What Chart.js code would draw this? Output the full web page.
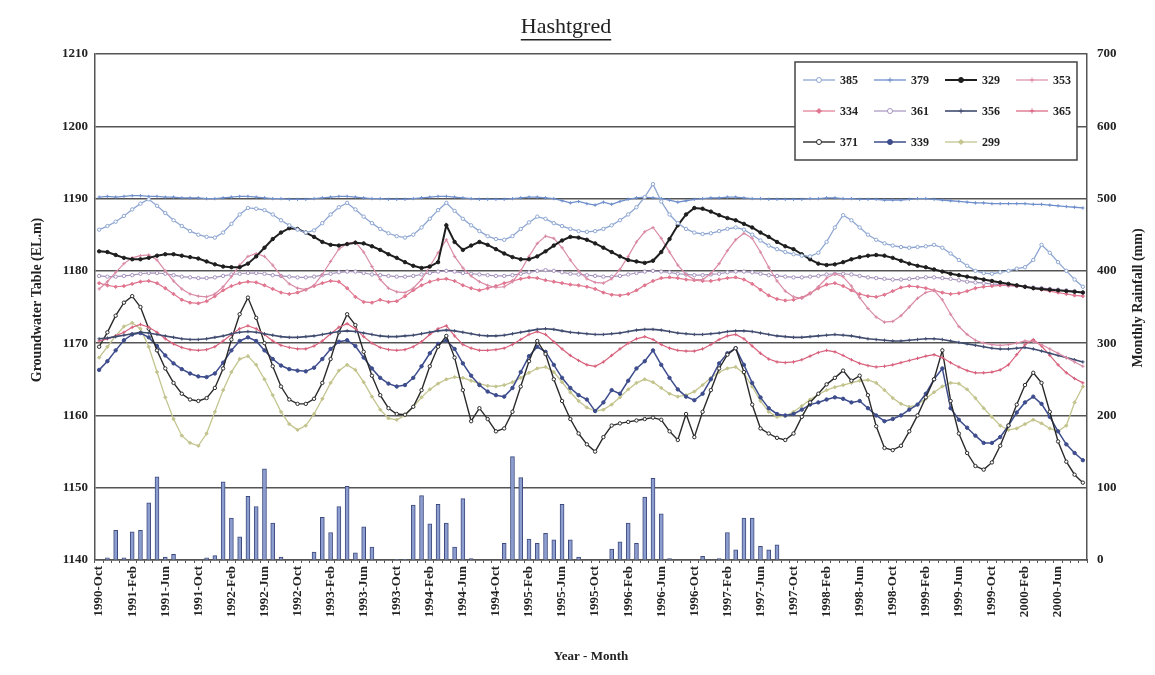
<!DOCTYPE html>
<html>
<head>
<meta charset="utf-8">
<script src="https://cdn.jsdelivr.net/npm/chart.js@4.4.1/dist/chart.umd.min.js"></script>
<style>
  html, body { margin: 0; padding: 0; background: #fff; }
  #wrap { position: relative; width: 1155px; height: 675px; }
</style>
</head>
<body>
<div id="wrap"><canvas id="c" width="1155" height="675"></canvas></div>
<script>
// Hashtgred — groundwater table of 11 wells (left axis) and monthly rainfall bars (right axis)

const monthNames = ['Jan','Feb','Mar','Apr','May','Jun','Jul','Aug','Sep','Oct','Nov','Dec'];
const months = [];
for (let k = 0; k < 120; k++) {
    months.push((1990 + Math.floor((9 + k) / 12)) + '-' + monthNames[(9 + k) % 12]);
}

const leftTicks = [1140, 1150, 1160, 1170, 1180, 1190, 1200, 1210];
const rightTicks = [0, 100, 200, 300, 400, 500, 600, 700];

const rainfall = [
    0,3,41,3,39,41,79,115,4,8,0,0,
    0,3,6,108,58,32,88,74,126,51,4,0,
    0,0,11,59,38,74,102,10,46,18,0,0,
    1,1,76,89,50,77,51,18,85,2,0,0,
    0,23,143,114,29,23,37,28,77,28,4,0,
    0,0,15,25,51,23,87,113,64,2,0,0,
    0,5,0,2,38,14,58,58,19,14,21,0,
    0,0,0,0,0,0,0,0,0,0,0,0,
    0,0,0,0,0,0,0,0,0,0,0,0,
    0,0,0,0,0,0,0,0,0,0,0,0
];

const w385 = [
    1185.7,1186.2,1186.8,1187.6,1188.5,1189.3,1189.9,1189.0,1188.0,1187.0,1186.2,1185.5,
    1185.0,1184.7,1184.6,1185.3,1186.5,1187.8,1188.7,1188.6,1188.4,1187.8,1187.0,1186.3,
    1185.7,1185.3,1185.6,1186.6,1187.8,1188.8,1189.4,1188.5,1187.5,1186.6,1185.8,1185.2,
    1184.8,1184.6,1185.0,1186.0,1187.2,1188.4,1189.4,1188.3,1187.2,1186.3,1185.5,1184.8,
    1184.4,1184.3,1184.8,1185.8,1186.7,1187.5,1187.2,1186.6,1186.2,1185.8,1185.5,1185.4,
    1185.5,1185.8,1186.3,1187.0,1187.8,1188.8,1190.2,1192.0,1189.6,1187.8,1186.6,1185.8,
    1185.3,1185.1,1185.2,1185.5,1185.8,1186.0,1185.7,1185.0,1184.2,1183.5,1183.0,1182.6,
    1182.3,1182.1,1182.0,1182.5,1184.0,1186.0,1187.7,1187.0,1186.0,1185.0,1184.3,1183.8,
    1183.5,1183.3,1183.2,1183.3,1183.4,1183.6,1183.2,1182.4,1181.5,1180.7,1180.0,1179.7,
    1179.6,1179.8,1180.0,1180.3,1180.5,1181.5,1183.6,1182.5,1181.2,1180.0,1178.8,1177.8
];
const w379 = [
    1190.2,1190.3,1190.2,1190.3,1190.4,1190.4,1190.3,1190.3,1190.2,1190.2,1190.1,1190.1,
    1190.1,1190.0,1190.0,1190.1,1190.2,1190.3,1190.3,1190.2,1190.1,1190.0,1190.0,1189.9,
    1189.9,1189.9,1190.0,1190.1,1190.2,1190.3,1190.3,1190.2,1190.1,1190.0,1190.0,1189.9,
    1189.9,1189.9,1190.0,1190.1,1190.2,1190.3,1190.3,1190.2,1190.1,1190.0,1189.9,1189.9,
    1189.9,1189.9,1190.0,1190.1,1190.2,1190.2,1190.1,1190.0,1189.7,1189.4,1189.6,1189.3,
    1189.1,1189.5,1189.2,1189.6,1189.9,1190.1,1190.2,1190.1,1190.0,1189.8,1189.5,1189.7,
    1189.9,1190.0,1190.1,1190.1,1190.2,1190.2,1190.1,1190.0,1190.0,1189.9,1189.9,1189.9,
    1189.9,1189.9,1190.0,1190.0,1190.1,1190.1,1190.0,1190.0,1189.9,1189.9,1189.9,1189.8,
    1189.8,1189.8,1189.9,1190.0,1190.0,1189.9,1189.8,1189.7,1189.6,1189.5,1189.4,1189.4,
    1189.3,1189.3,1189.3,1189.3,1189.3,1189.2,1189.2,1189.1,1189.0,1188.9,1188.8,1188.7
];
const w329 = [
    1182.7,1182.6,1182.2,1181.8,1181.6,1181.6,1181.8,1182.1,1182.3,1182.3,1182.1,1181.9,
    1181.7,1181.3,1180.9,1180.6,1180.5,1180.5,1181.0,1182.0,1183.2,1184.4,1185.3,1185.9,
    1185.8,1185.3,1184.7,1184.0,1183.6,1183.5,1183.7,1183.9,1183.8,1183.4,1182.9,1182.3,
    1181.8,1181.2,1180.7,1180.4,1180.6,1181.2,1186.3,1184.0,1182.9,1183.5,1184.0,1183.6,
    1183.0,1182.4,1181.9,1181.6,1181.6,1182.0,1182.7,1183.5,1184.2,1184.7,1184.6,1184.3,
    1183.8,1183.2,1182.6,1182.0,1181.5,1181.3,1181.1,1181.4,1182.6,1184.4,1186.3,1187.8,
    1188.7,1188.6,1188.2,1187.7,1187.3,1187.0,1186.5,1186.0,1185.3,1184.7,1184.0,1183.4,
    1183.0,1182.3,1181.6,1181.0,1180.8,1180.9,1181.2,1181.6,1181.9,1182.1,1182.2,1182.1,
    1181.8,1181.4,1181.0,1180.7,1180.5,1180.2,1179.9,1179.6,1179.4,1179.2,1179.0,1178.8,
    1178.6,1178.4,1178.2,1178.0,1177.8,1177.6,1177.5,1177.4,1177.3,1177.2,1177.1,1177.0
];
const w353 = [
    1177.5,1178.5,1179.8,1181.0,1181.8,1182.1,1182.2,1181.5,1180.0,1178.6,1177.5,1176.8,
    1176.5,1176.4,1176.8,1177.8,1179.2,1180.8,1182.0,1182.4,1182.0,1180.8,1179.3,1178.2,
    1177.6,1177.4,1178.0,1179.5,1181.3,1183.0,1183.8,1184.0,1182.6,1180.6,1178.8,1177.6,
    1177.1,1177.0,1177.6,1178.8,1180.6,1182.5,1184.3,1182.0,1180.4,1179.3,1178.5,1178.0,
    1177.7,1177.8,1178.5,1180.0,1182.0,1183.8,1184.8,1184.5,1183.2,1181.5,1180.0,1178.9,
    1178.4,1178.3,1178.9,1180.2,1182.0,1184.0,1185.4,1186.0,1184.5,1182.6,1180.8,1179.5,
    1178.8,1178.8,1179.6,1181.0,1182.8,1184.3,1185.2,1184.5,1182.6,1180.5,1178.6,1177.2,
    1176.4,1176.2,1176.8,1177.8,1179.0,1179.6,1179.2,1177.9,1176.3,1174.8,1173.6,1172.9,
    1173.0,1173.8,1175.0,1176.2,1177.0,1177.3,1176.0,1174.0,1172.3,1171.2,1170.4,1170.0,
    1169.8,1169.7,1169.8,1170.0,1170.3,1170.2,1169.8,1169.2,1168.6,1168.0,1167.4,1166.8
];
const w334 = [
    1178.3,1178.0,1177.8,1177.9,1178.2,1178.5,1178.6,1178.3,1177.6,1176.8,1176.0,1175.6,
    1175.5,1175.8,1176.5,1177.3,1177.9,1178.3,1178.5,1178.4,1178.0,1177.5,1177.0,1176.8,
    1177.0,1177.4,1177.9,1178.3,1178.6,1178.5,1177.6,1176.4,1175.7,1175.6,1176.0,1175.7,
    1175.8,1176.5,1177.3,1178.0,1178.5,1178.8,1178.9,1178.6,1178.0,1177.6,1177.3,1177.6,
    1177.9,1178.3,1178.6,1178.9,1179.1,1179.0,1178.7,1178.5,1178.3,1178.1,1178.0,1177.8,
    1177.5,1177.0,1176.7,1176.6,1176.8,1177.3,1178.0,1178.6,1179.0,1179.1,1179.0,1178.8,
    1178.7,1178.6,1178.6,1178.8,1179.0,1179.1,1178.8,1178.2,1177.4,1176.6,1176.1,1175.9,
    1176.0,1176.3,1176.9,1177.6,1178.1,1178.3,1177.9,1177.3,1176.8,1176.5,1176.4,1176.7,
    1177.2,1177.7,1177.9,1177.8,1177.6,1177.3,1177.0,1176.8,1176.9,1177.2,1177.6,1177.8,
    1177.9,1178.0,1178.0,1177.9,1177.8,1177.6,1177.4,1177.2,1177.0,1176.8,1176.6,1176.5
];
const w361 = [
    1179.3,1179.2,1179.2,1179.3,1179.4,1179.6,1179.7,1179.7,1179.6,1179.4,1179.2,1179.1,
    1179.0,1179.0,1179.1,1179.3,1179.5,1179.6,1179.7,1179.7,1179.6,1179.4,1179.3,1179.2,
    1179.1,1179.1,1179.2,1179.4,1179.6,1179.8,1179.9,1179.9,1179.7,1179.5,1179.4,1179.3,
    1179.2,1179.2,1179.3,1179.5,1179.7,1179.9,1180.0,1179.9,1179.7,1179.6,1179.5,1179.4,
    1179.3,1179.3,1179.4,1179.6,1179.8,1180.0,1180.1,1180.0,1179.8,1179.6,1179.5,1179.4,
    1179.3,1179.2,1179.2,1179.3,1179.5,1179.7,1179.9,1180.0,1179.9,1179.8,1179.6,1179.5,
    1179.4,1179.4,1179.5,1179.6,1179.8,1179.9,1179.9,1179.8,1179.6,1179.4,1179.3,1179.2,
    1179.1,1179.1,1179.2,1179.3,1179.5,1179.6,1179.6,1179.5,1179.3,1179.1,1179.0,1178.9,
    1178.8,1178.8,1178.9,1179.0,1179.1,1179.1,1179.0,1178.9,1178.7,1178.5,1178.4,1178.3,
    1178.2,1178.1,1178.0,1177.9,1177.8,1177.7,1177.6,1177.5,1177.4,1177.3,1177.2,1177.0
];
const w356 = [
    1170.6,1170.7,1170.9,1171.1,1171.3,1171.5,1171.4,1171.2,1171.0,1170.8,1170.6,1170.5,
    1170.5,1170.6,1170.8,1171.0,1171.3,1171.5,1171.6,1171.5,1171.3,1171.1,1170.9,1170.8,
    1170.8,1170.9,1171.0,1171.2,1171.4,1171.6,1171.7,1171.6,1171.4,1171.2,1171.0,1170.9,
    1170.9,1171.0,1171.1,1171.3,1171.5,1171.7,1171.8,1171.7,1171.5,1171.3,1171.1,1171.0,
    1171.0,1171.1,1171.3,1171.5,1171.7,1171.9,1172.0,1171.9,1171.7,1171.5,1171.4,1171.3,
    1171.2,1171.2,1171.3,1171.4,1171.6,1171.8,1171.9,1171.9,1171.8,1171.6,1171.4,1171.3,
    1171.2,1171.2,1171.3,1171.4,1171.6,1171.7,1171.7,1171.6,1171.4,1171.2,1171.0,1170.9,
    1170.8,1170.8,1170.9,1171.0,1171.1,1171.2,1171.1,1171.0,1170.8,1170.6,1170.5,1170.4,
    1170.3,1170.3,1170.4,1170.5,1170.6,1170.6,1170.5,1170.3,1170.1,1169.9,1169.7,1169.5,
    1169.3,1169.2,1169.2,1169.3,1169.4,1169.2,1168.9,1168.6,1168.3,1168.0,1167.7,1167.4
];
const w365 = [
    1170.3,1170.6,1171.0,1171.5,1172.2,1172.6,1172.2,1171.5,1170.6,1169.9,1169.4,1169.1,
    1169.0,1169.1,1169.5,1170.3,1171.2,1172.0,1172.4,1172.0,1171.2,1170.3,1169.7,1169.4,
    1169.2,1169.2,1169.6,1170.3,1171.3,1172.2,1172.7,1172.0,1170.9,1170.0,1169.4,1169.1,
    1169.0,1169.1,1169.5,1170.2,1171.2,1172.0,1172.4,1171.0,1169.8,1169.3,1169.0,1169.0,
    1169.1,1169.3,1169.8,1170.5,1171.2,1171.6,1171.2,1170.2,1169.2,1168.3,1167.6,1167.0,
    1166.8,1167.4,1168.3,1169.2,1170.0,1170.6,1170.9,1170.5,1169.8,1169.3,1169.0,1168.9,
    1168.9,1169.2,1169.8,1170.5,1171.0,1171.2,1170.6,1169.6,1168.6,1167.8,1167.4,1167.3,
    1167.4,1167.7,1168.2,1168.7,1169.0,1168.8,1168.3,1167.7,1167.2,1166.9,1166.7,1166.8,
    1167.0,1167.3,1167.6,1167.9,1168.2,1168.4,1168.0,1167.3,1166.7,1166.2,1165.9,1165.9,
    1166.0,1166.3,1167.0,1168.4,1169.8,1170.5,1169.6,1168.3,1167.0,1165.9,1165.1,1164.5
];
const w371 = [
    1169.5,1171.5,1173.8,1175.6,1176.5,1175.0,1172.0,1169.0,1166.5,1164.5,1163.0,1162.2,
    1162.0,1162.4,1163.8,1166.5,1170.5,1174.0,1176.3,1173.5,1170.0,1166.8,1164.0,1162.2,
    1161.6,1161.6,1162.3,1164.5,1167.8,1171.5,1174.0,1172.5,1168.8,1165.5,1162.8,1161.0,
    1160.2,1160.1,1161.2,1163.5,1166.8,1169.5,1171.0,1168.0,1163.5,1159.2,1161.0,1159.5,
    1157.8,1158.2,1160.5,1164.0,1167.5,1170.3,1168.5,1165.0,1162.0,1159.5,1157.5,1156.0,
    1155.0,1157.0,1158.6,1158.9,1159.1,1159.3,1159.5,1159.7,1159.4,1157.8,1156.6,1160.2,
    1157.0,1160.5,1163.5,1166.5,1168.4,1169.3,1166.0,1161.5,1158.2,1157.5,1156.9,1156.6,
    1157.5,1159.8,1161.8,1163.0,1164.3,1165.2,1166.2,1164.8,1165.5,1162.8,1158.5,1155.5,
    1155.2,1155.8,1157.8,1160.0,1162.5,1165.0,1169.0,1162.0,1157.5,1154.8,1153.0,1152.5,
    1153.5,1155.8,1158.6,1161.5,1164.2,1165.9,1164.5,1160.5,1156.4,1153.6,1151.8,1150.7
];
const w339 = [
    1166.3,1167.5,1169.0,1170.4,1171.2,1171.4,1170.8,1169.6,1168.3,1167.2,1166.4,1165.8,
    1165.4,1165.3,1165.8,1167.3,1169.0,1170.3,1170.8,1170.3,1169.0,1167.8,1166.9,1166.4,
    1166.2,1166.1,1166.6,1167.8,1169.2,1170.2,1170.4,1169.6,1168.0,1166.5,1165.2,1164.4,
    1164.0,1164.2,1165.2,1166.8,1168.6,1169.9,1170.4,1169.2,1167.2,1165.5,1164.2,1163.3,
    1162.8,1162.6,1163.8,1166.0,1168.2,1169.5,1168.8,1167.0,1165.2,1163.8,1162.8,1162.2,
    1160.6,1161.8,1163.5,1163.0,1164.8,1166.5,1167.5,1169.0,1167.0,1165.2,1163.6,1162.6,
    1162.1,1163.0,1165.0,1167.2,1168.6,1169.3,1167.0,1164.5,1162.5,1161.0,1160.2,1160.0,
    1160.2,1160.8,1161.5,1161.8,1162.2,1162.5,1162.3,1161.8,1162.0,1161.0,1160.0,1159.2,
    1159.5,1160.0,1160.8,1161.5,1163.0,1165.0,1166.5,1161.0,1159.4,1158.3,1157.2,1156.2,
    1156.2,1157.0,1158.6,1160.4,1161.8,1162.6,1161.6,1159.8,1157.8,1156.0,1154.8,1153.8
];
const w299 = [
    1168.0,1169.5,1171.0,1172.3,1172.8,1172.0,1169.5,1166.0,1162.5,1159.5,1157.2,1156.2,
    1155.8,1157.5,1160.5,1163.5,1166.0,1167.8,1168.2,1167.0,1165.0,1162.8,1160.5,1158.8,
    1158.0,1158.6,1160.2,1162.3,1164.5,1166.2,1167.0,1166.3,1164.6,1162.6,1160.8,1159.6,
    1159.4,1160.0,1161.2,1162.5,1163.6,1164.4,1165.0,1165.3,1165.2,1164.8,1164.4,1164.1,
    1164.0,1164.2,1164.6,1165.2,1165.9,1166.5,1166.7,1166.0,1164.6,1163.2,1162.0,1161.1,
    1160.6,1160.8,1161.5,1162.5,1163.6,1164.5,1165.0,1164.6,1163.8,1163.0,1162.6,1162.8,
    1163.3,1164.2,1165.2,1166.0,1166.5,1166.7,1165.8,1164.0,1162.0,1160.5,1159.8,1159.9,
    1160.5,1161.3,1162.2,1162.9,1163.5,1163.9,1164.2,1164.5,1164.8,1164.9,1164.5,1163.5,
    1162.4,1161.6,1161.2,1161.5,1162.3,1163.2,1164.0,1164.5,1164.4,1163.6,1162.4,1161.0,
    1159.8,1158.6,1158.0,1158.2,1158.8,1159.4,1158.9,1158.2,1157.8,1158.6,1161.8,1164.0
];

// legend order (row by row, 4 per row)
const wells = [
    { name: '385', data: w385, color: '#8ea6d2', style: 'circle',  fill: '#ffffff', width: 1.3 },
    { name: '379', data: w379, color: '#6f8fcc', style: 'cross',   fill: '#6f8fcc', width: 1.3 },
    { name: '329', data: w329, color: '#1e1e1e', style: 'circle',  fill: '#1e1e1e', width: 2.0 },
    { name: '353', data: w353, color: '#d98ba6', style: 'cross',   fill: '#d98ba6', width: 1.2 },
    { name: '334', data: w334, color: '#e0768f', style: 'rectRot', fill: '#e0768f', width: 1.2 },
    { name: '361', data: w361, color: '#a592bd', style: 'circle',  fill: '#ffffff', width: 1.2 },
    { name: '356', data: w356, color: '#404c70', style: 'cross',   fill: '#404c70', width: 1.6 },
    { name: '365', data: w365, color: '#d8617c', style: 'cross',   fill: '#d8617c', width: 1.2 },
    { name: '371', data: w371, color: '#2a2a2a', style: 'circle',  fill: '#ffffff', width: 1.4 },
    { name: '339', data: w339, color: '#3d4c8c', style: 'circle',  fill: '#3d4c8c', width: 1.5 },
    { name: '299', data: w299, color: '#c3c48e', style: 'rectRot', fill: '#c3c48e', width: 1.3 }
];

const SERIF = '"Liberation Serif", "DejaVu Serif", serif';

const datasets = wells.map((w, i) => ({
    type: 'line',
    label: w.name,
    data: w.data,
    yAxisID: 'y',
    borderColor: w.color,
    borderWidth: w.width,
    pointStyle: w.style,
    pointRadius: 1.7,
    pointBorderWidth: 1,
    pointBorderColor: w.color,
    pointBackgroundColor: w.fill,
    tension: 0,
    order: 1 + i
}));
datasets.push({
    type: 'bar',
    label: 'Rainfall',
    data: rainfall,
    yAxisID: 'y1',
    backgroundColor: '#8c9dd0',
    borderColor: '#3f4b7e',
    borderWidth: 1,
    barThickness: 4,
    order: 50
});

const textPlugin = {
    id: 'texts',
    afterDraw(chart) {
        const ctx = chart.ctx;
        const area = chart.chartArea;
        ctx.save();
        ctx.fillStyle = '#222';
        // chart title, underlined
        ctx.font = '22px ' + SERIF;
        ctx.textAlign = 'center';
        ctx.textBaseline = 'middle';
        ctx.fillText('Hashtgred', 566, 27);
        const tw = ctx.measureText('Hashtgred').width;
        ctx.fillRect(566 - tw / 2, 39, tw, 1.5);

        // axis titles
        ctx.font = 'bold 13px ' + SERIF;
        ctx.fillText('Year - Month', (area.left + area.right) / 2, 657);
        ctx.font = 'bold 14px ' + SERIF;
        ctx.translate(37, 300);
        ctx.rotate(-Math.PI / 2);
        ctx.fillText('Groundwater Table (EL.m)', 0, 0);
        ctx.setTransform(1, 0, 0, 1, 0, 0);
        ctx.translate(1138, 298);
        ctx.rotate(-Math.PI / 2);
        ctx.fillText('Monthly Rainfall (mm)', 0, 0);
        ctx.setTransform(1, 0, 0, 1, 0, 0);

        // legend box
        const bx = 795, by = 62, bw = 282, bh = 98;
        ctx.fillStyle = '#fff';
        ctx.fillRect(bx, by, bw, bh);
        ctx.strokeStyle = '#444';
        ctx.lineWidth = 1.5;
        ctx.strokeRect(bx, by, bw, bh);
        ctx.font = 'bold 12px ' + SERIF;
        ctx.textAlign = 'left';
        chart.data.datasets.forEach((ds, i) => {
            if (ds.type !== 'line') return;
            const col = i % 4, row = Math.floor(i / 4);
            const x0 = 803 + col * 71, y0 = 80 + row * 31;
            ctx.strokeStyle = ds.borderColor;
            ctx.lineWidth = ds.borderWidth;
            ctx.beginPath();
            ctx.moveTo(x0, y0);
            ctx.lineTo(x0 + 32, y0);
            ctx.stroke();
            ctx.lineWidth = 1;
            ctx.fillStyle = ds.pointBackgroundColor;
            ctx.strokeStyle = ds.borderColor;
            Chart.helpers.drawPoint(ctx, {
                pointStyle: ds.pointStyle, radius: 2.5, borderWidth: 1
            }, x0 + 16, y0);
            ctx.fillStyle = '#222';
            ctx.fillText(ds.label, x0 + 37, y0 + 1);
        });
        ctx.restore();
    }
};

new Chart(document.getElementById('c'), {
    data: { labels: months, datasets },
    options: {
        responsive: false,
        animation: false,
        layout: { padding: { top: 54, left: 0, right: 0, bottom: 0 } },
        plugins: { legend: { display: false }, tooltip: { enabled: false } },
        scales: {
            x: {
                type: 'category',
                offset: true,
                afterFit: s => { s.height = 115; },
                grid: { drawOnChartArea: false, tickLength: 3, color: '#555' },
                border: { color: '#555', width: 1.5 },
                ticks: {
                    autoSkip: false,
                    maxRotation: 90,
                    minRotation: 90,
                    padding: 3,
                    color: '#222',
                    font: { family: SERIF, size: 13, weight: 'bold' },
                    callback: (v, i) => (i % 4 === 0 ? months[i] : '')
                }
            },
            y: {
                position: 'left',
                min: 1140,
                max: 1210,
                afterFit: s => { s.width = 95; },
                afterBuildTicks: s => { s.ticks = leftTicks.map(v => ({ value: v })); },
                grid: { color: '#555', lineWidth: 1.4, drawTicks: false },
                border: { color: '#555', width: 1.5 },
                ticks: {
                    padding: 7, color: '#222',
                    font: { family: SERIF, size: 13, weight: 'bold' },
                    callback: v => String(v)
                }
            },
            y1: {
                position: 'right',
                min: 0,
                max: 700,
                afterFit: s => { s.width = 68; },
                afterBuildTicks: s => { s.ticks = rightTicks.map(v => ({ value: v })); },
                grid: { drawOnChartArea: false, drawTicks: false },
                border: { color: '#555', width: 1.5 },
                ticks: {
                    padding: 10, color: '#222',
                    font: { family: SERIF, size: 13, weight: 'bold' },
                    callback: v => String(v)
                }
            }
        }
    },
    plugins: [textPlugin]
});
</script>
</body>
</html>
